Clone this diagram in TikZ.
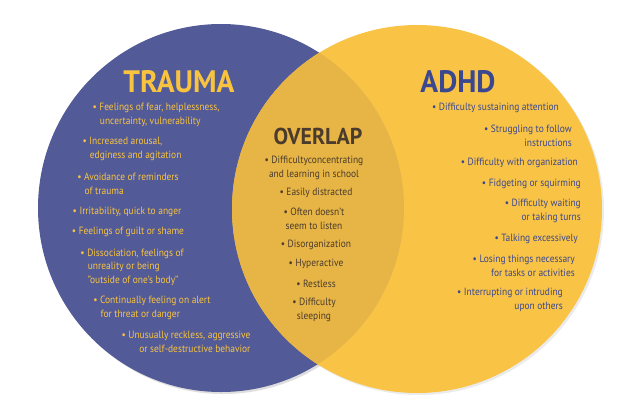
\documentclass[tikz,border=0pt]{standalone}
\usepackage{fontspec}
\setmainfont{PT Sans}[FakeStretch=0.9]
\newfontfamily\titlefont{PT Sans}[FakeStretch=0.95]
\definecolor{tblue}{HTML}{525A98}
\definecolor{ayel}{HTML}{F9C446}
\definecolor{ovl}{HTML}{E7B546}
\definecolor{tyel}{HTML}{F8C440}
\definecolor{ablue}{HTML}{3B4890}
\definecolor{obrown}{HTML}{4A3B2C}
\begin{document}
\begin{tikzpicture}[x=1pt,y=-1pt,
  item/.style={font=\fontsize{10.5}{13.5}\selectfont, inner sep=0pt},
  titem/.style={item, text=tyel, align=left},
  aitem/.style={item, text=ablue, align=right, anchor=east},
  oitem/.style={item, text=obrown, align=center}]
\useasboundingbox (0,0) rectangle (640,413);
\fill[white] (0,0) rectangle (640,413);
\fill[black!25,opacity=0.5] (223,210) ellipse (183 and 184);
\fill[black!15,opacity=0.5] (419,211) ellipse (185 and 184);
\fill[tblue] (221,208) ellipse (183 and 184);
\fill[ayel] (417,209) ellipse (185 and 184);
\begin{scope}
\clip (221,208) ellipse (183 and 184);
\fill[ovl] (417,209) ellipse (185 and 184);
\end{scope}
\node[text=tyel, font=\titlefont\fontsize{31}{31}\selectfont\bfseries] (trauma) at (179,82) {TRAUMA};
\node[text=ablue, font=\titlefont\fontsize{31}{31}\selectfont\bfseries] (adhd) at (458,82) {ADHD};
\node[text=obrown, font=\titlefont\fontsize{23}{23}\selectfont\bfseries] (overlap) at (318,136) {OVERLAP};
% trauma
\node[titem] (t1) at (156,115) {• Feelings of fear, helplessness,\\\hspace{0.7em}uncertainty, vulnerability};
\node[titem] (t2) at (132,149) {• Increased arousal,\\\hspace{0.7em}edginess and agitation};
\node[titem] (t3) at (128,184) {• Avoidance of reminders\\\hspace{0.7em}of trauma};
\node[titem] (t4) at (127,212) {• Irritability, quick to anger};
\node[titem] (t5) at (128,232) {• Feelings of guilt or shame};
\node[titem] (t6) at (132,267) {• Dissociation, feelings of\\\hspace{0.7em}unreality or being\\\hspace{0.7em}"outside of one's body"};
\node[titem] (t7) at (152,308) {• Continually feeling on alert\\\hspace{0.7em}for threat or danger};
\node[titem, align=right] (t8) at (186,342) {• Unusually reckless, aggressive\\or self-destructive behavior};
% overlap
\node[oitem] (o1) at (314,168) {• Difficultyconcentrating\\and learning in school};
\node[oitem] (o2) at (316,193) {• Easily distracted};
\node[oitem] (o3) at (314,219) {• Often doesn't\\seem to listen};
\node[oitem] (o4) at (316,245) {• Disorganization};
\node[oitem] (o5) at (316,264) {• Hyperactive};
\node[oitem] (o6) at (316,284) {• Restless};
\node[oitem] (o7) at (314,310) {• Difficulty\\sleeping};
% adhd
\node[aitem] (a1) at (559,108) {• Difficulty sustaining attention};
\node[aitem] (a2) at (572,136) {• Struggling to follow\\instructions};
\node[aitem] (a3) at (578,163) {• Difficulty with organization};
\node[aitem] (a4) at (581,184) {• Fidgeting or squirming};
\node[aitem] (a5) at (581,211) {• Difficulty waiting\\or taking turns};
\node[aitem] (a6) at (578,239) {• Talking excessively};
\node[aitem] (a7) at (575,266) {• Losing things necessary\\for tasks or activities};
\node[aitem] (a8) at (563,300) {• Interrupting or intruding\\upon others};
\end{tikzpicture}
\end{document}
